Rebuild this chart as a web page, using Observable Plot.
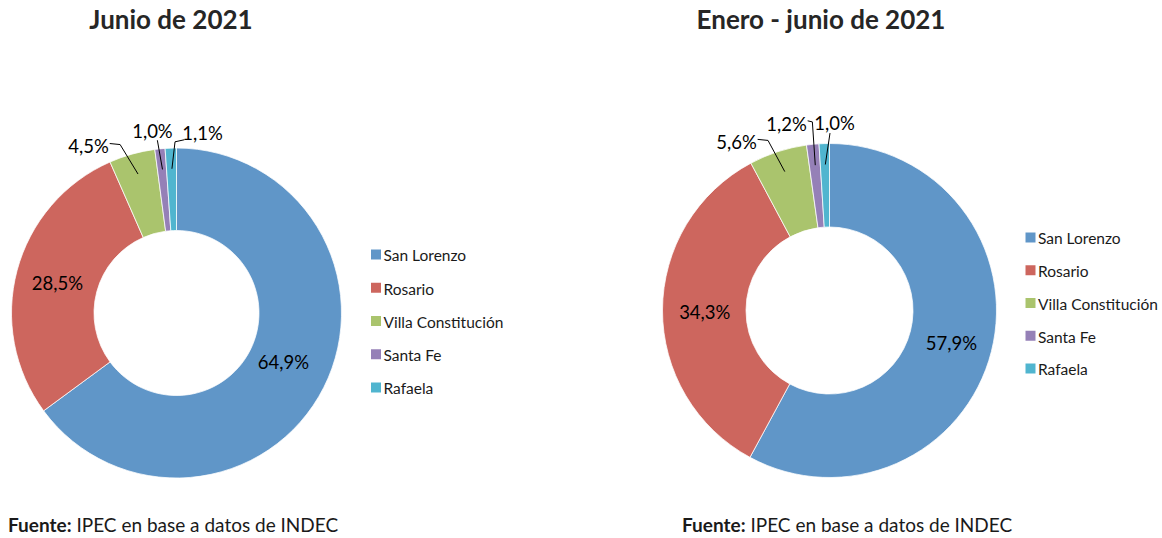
<!DOCTYPE html>
<html>
<head>
<meta charset="utf-8">
<script src="https://cdn.jsdelivr.net/npm/d3@7"></script>
<script src="https://cdn.jsdelivr.net/npm/@observablehq/plot@0.6"></script>
<style>
  html, body { margin: 0; padding: 0; background: #fff; }
  #root { position: relative; width: 1162px; height: 538px; overflow: hidden; font-family: Lato, "Noto Sans", sans-serif; }
  .title { position: absolute; width: 500px; text-align: center; font-weight: 700; font-size: 26px; line-height: 26px; color: #262626; white-space: nowrap; }
  .caption { position: absolute; font-size: 19px; line-height: 19px; color: #1a1a1a; white-space: nowrap; }
  .panel { position: absolute; top: 40px; }
  .panel svg { display: block; }
</style>
</head>
<body>
<div id="root"></div>
<script>
// ---- data ----
const categories = ["San Lorenzo", "Rosario", "Villa Constitución", "Santa Fe", "Rafaela"];
const junio2021 = [64.9, 28.5, 4.5, 1.0, 1.1];
const eneroJunio2021 = [57.9, 34.3, 5.6, 1.2, 1.0];
const chartTitles = ["Junio de 2021", "Enero - junio de 2021"];
const sourceLead = "Fuente:";
const sourceText = " IPEC en base a datos de INDEC";

// ---- styles ----
const sliceColors = ["#6096c8", "#cd665e", "#aac46d", "#9580b7", "#50b5cf"];

// ---- layout (page pixels) ----
const panelTop = 40, panelHeight = 460;
const layout = [
  { values: junio2021, title: chartTitles[0], left: 0, width: 581,
    cx: 176.5, cy: 313, R: 165, r: 82.5, titleX: 171, captionX: 8,
    legendX: 375.5, legendY0: 254, legendStep: 33.25,
    nudges: [[-4, -6], [0, 2], [-38.5, 12], [-6, 2], [32, 5]] },
  { values: eneroJunio2021, title: chartTitles[1], left: 581, width: 581,
    cx: 829.5, cy: 310.5, R: 167, r: 83.5, titleX: 821, captionX: 682,
    legendX: 1030, legendY0: 237, legendStep: 32.75,
    nudges: [[0, 2], [0, 2], [-35.7, 10.3], [-24.7, 0], [10.4, 0.4]] }
];
const outsideThreshold = 10;      // % below which the label goes outside
const outsideLabelFactor = 1.12;  // label radius / outer radius
const leaderEndFactor = 0.88;     // leader end radius / outer radius
const labelHalfWidth = 19.5;

const fmt = v => v.toFixed(1).replace(".", ",") + "%";

const root = document.getElementById("root");

layout.forEach(p => {
  const ox = p.left, oy = panelTop;
  const cx = p.cx - ox, cy = p.cy - oy;
  const rows = categories.map((name, i) => ({ name, value: p.values[i], i }));
  const arcs = d3.pie().sort(null).value(d => d.value)(rows);

  // labels
  const labels = arcs.map((a, i) => {
    const mid = (a.startAngle + a.endAngle) / 2;
    const outside = a.data.value < outsideThreshold;
    const rad = outside ? p.R * outsideLabelFactor : (p.R + p.r) / 2;
    const [dx, dy] = p.nudges[i];
    return {
      name: a.data.name, text: fmt(a.data.value), outside, mid,
      x: cx + rad * Math.sin(mid) + dx,
      y: cy - rad * Math.cos(mid) + dy
    };
  });

  // leader lines for outside labels
  const leaders = [];
  labels.filter(l => l.outside).forEach(l => {
    const ex = cx + p.R * leaderEndFactor * Math.sin(l.mid);
    const ey = cy - p.R * leaderEndFactor * Math.cos(l.mid);
    let pts;
    if (ex < l.x - labelHalfWidth) {
      const sx = l.x - labelHalfWidth + 1, sy = l.y + 6;
      pts = [[sx, sy], [sx - Math.min(10, (sx - ex) * 0.75), sy + 2], [ex, ey]];
    } else if (ex > l.x + labelHalfWidth) {
      const sx = l.x + labelHalfWidth + 2, sy = l.y - 4;
      pts = [[sx, sy], [sx + Math.min(10, (ex - sx) * 0.6), sy + 1], [ex, ey]];
    } else {
      const sx = l.x + (ex - l.x) * 0.5, sy = l.y + 9;
      pts = [[sx, sy], [ex, ey]];
    }
    pts.forEach(([x, y]) => leaders.push({ k: l.name, x, y }));
  });

  // legend rows
  const legend = rows.map((d, i) => ({
    name: d.name,
    x: p.legendX - ox,
    y: p.legendY0 - oy + i * p.legendStep
  }));

  const donut = (index, scales) => {
    const arc = d3.arc().innerRadius(p.r).outerRadius(p.R);
    const g = d3.create("svg:g").attr("transform", `translate(${cx},${cy})`);
    g.selectAll("path").data(arcs).join("path")
      .attr("d", arc)
      .attr("fill", d => scales.color(d.data.name))
      .attr("stroke", "#ffffff")
      .attr("stroke-width", 0.75);
    return g.node();
  };

  const chart = Plot.plot({
    width: p.width,
    height: panelHeight,
    margin: 0,
    x: { type: "identity", axis: null },
    y: { type: "identity", axis: null },
    color: { domain: categories, range: sliceColors },
    style: { background: "transparent", fontFamily: "Lato" },
    marks: [
      donut,
      Plot.line(leaders, { x: "x", y: "y", z: "k", stroke: "#000", strokeWidth: 1 }),
      Plot.text(labels, { x: "x", y: "y", text: "text", fill: "#000", fontSize: 18.5, fontFamily: "Lato", textAnchor: "middle" }),
      Plot.dot(legend, { x: "x", y: "y", fill: "name", symbol: "square", r: 5.64 }),
      Plot.text(legend, { x: d => d.x + 7.5, y: "y", text: "name", textAnchor: "start", dy: 2, fill: "#1a1a1a", fontSize: 15.5, fontFamily: "Lato" })
    ]
  });

  const panel = document.createElement("div");
  panel.className = "panel";
  panel.style.left = ox + "px";
  panel.appendChild(chart);
  root.appendChild(panel);

  const t = document.createElement("div");
  t.className = "title";
  t.style.left = (p.titleX - 250) + "px";
  t.style.top = "5.6px";
  t.textContent = p.title;
  root.appendChild(t);

  const c = document.createElement("div");
  c.className = "caption";
  c.style.left = p.captionX + "px";
  c.style.top = "514.9px";
  const b = document.createElement("b");
  b.textContent = sourceLead;
  c.appendChild(b);
  c.appendChild(document.createTextNode(sourceText));
  root.appendChild(c);
});
</script>
</body>
</html>
